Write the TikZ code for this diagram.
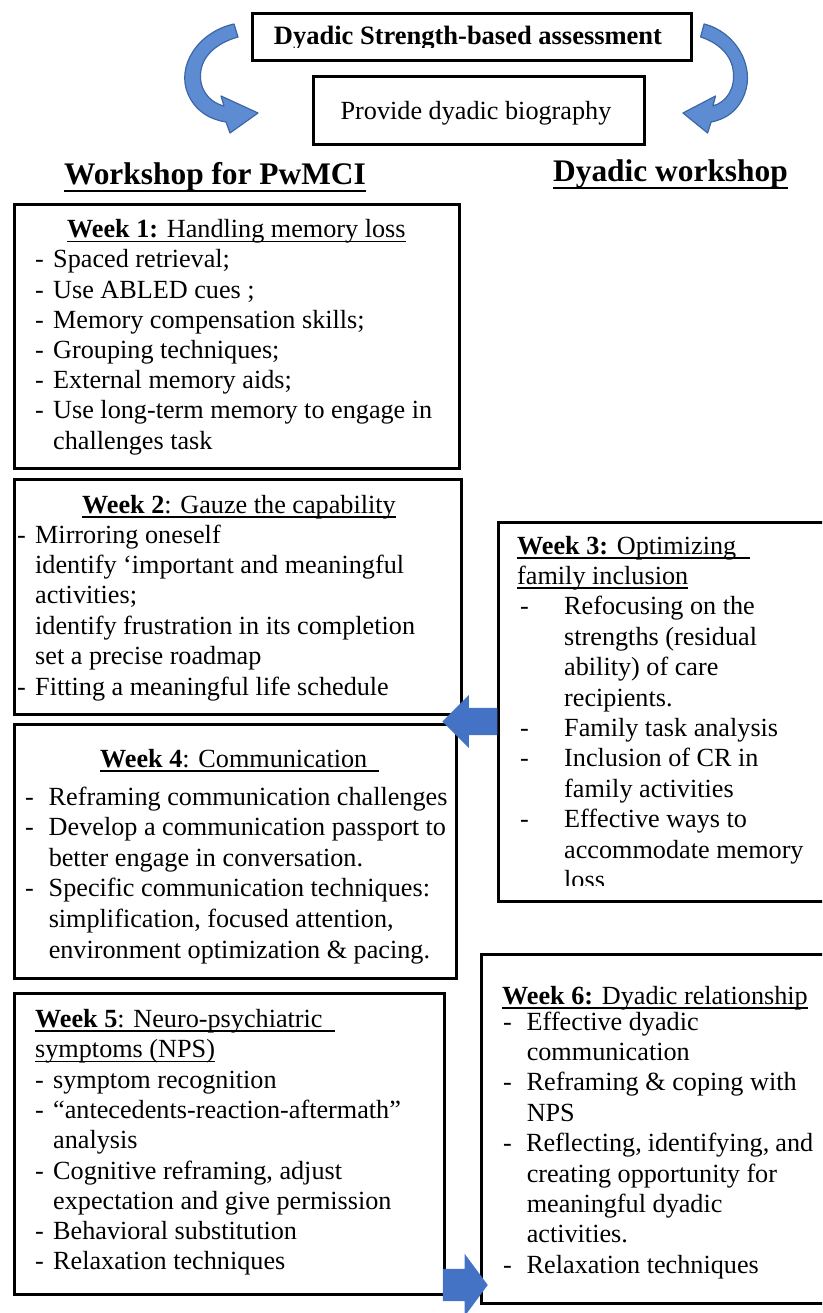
\documentclass[tikz,border=0pt]{standalone}
\usepackage{fontspec}
\setmainfont{Liberation Serif}
\usetikzlibrary{shapes.arrows}

\definecolor{blockblue}{HTML}{4472C4}
\definecolor{curvefill}{HTML}{5E8CD2}
\definecolor{curveline}{HTML}{3D66A6}

\newsavebox{\ulbox}
\newcommand{\wkhead}[1]{\leavevmode\sbox{\ulbox}{#1}\rlap{\rule[-4.5pt]{\wd\ulbox}{1.6pt}}\usebox{\ulbox}}
\newcommand{\colhead}[1]{\leavevmode\sbox{\ulbox}{#1}\rlap{\rule[-7.5pt]{\wd\ulbox}{2.2pt}}\usebox{\ulbox}}
\newcommand{\wkdash}[1][18pt]{\makebox[#1][l]{-}}
\newcommand{\wkcont}[1][18pt]{\hspace*{#1}}

\begin{document}
\begin{tikzpicture}[x=1pt, y=-1pt,
    wbox/.style={draw, line width=3.4pt, inner sep=0, anchor=north west},
    wtext/.style={inner sep=0, anchor=base west, font=\fontsize{26.2}{30.2}\selectfont},
    bigtitle/.style={inner sep=0, anchor=base, font=\fontsize{31.4}{36}\selectfont\bfseries},
    blockarr/.style={single arrow, fill=blockblue, inner xsep=0, anchor=tip},
    curvearr/.style={fill=curvefill, draw=curveline, line width=1.2pt, line join=round}]

  \path[use as bounding box, clip] (0,0) rectangle (822,1313);

  % Assessment
  \node[wbox, line width=3pt, minimum width=439pt, minimum height=47pt] (assess) at (251,12) {};
  \begin{scope}
    \clip (251,12) rectangle (690,48);
    \node[wtext, anchor=base, font=\fontsize{26.5}{30}\selectfont\bfseries] (assesstxt) at (468,45) {Dyadic Strength-based assessment};
  \end{scope}
  \node[wbox, line width=3pt, minimum width=331pt, minimum height=68pt] (bio) at (312,75) {};
  \node[wtext, anchor=base] (biotxt) at (476,120) {Provide dyadic biography};

  \foreach \sx/\sh in {1/0, -0.88/910} {
    \begin{scope}[xshift=\sh pt, xscale=\sx]
      \filldraw[curvearr] (234,24) .. controls (198,32) and (176,66) .. (188,94)
        .. controls (195,110) and (208,119) .. (226,122) -- (230,133) -- (258,113)
        -- (221,96) -- (224,106) .. controls (208,102) and (198,88) .. (201,70)
        .. controls (204,53) and (220,42) .. (238,37) -- cycle;
    \end{scope}
  }

  \node[bigtitle] (pwmci) at (215,185) {\colhead{Workshop for PwMCI}};
  \node[bigtitle] (dyadic) at (670.5,182) {\colhead{Dyadic workshop}};

  % Weeks
  \node[wbox, minimum width=445pt, minimum height=264pt] (w1) at (13,203) {};
  \node[wtext] (w1h) at (67,238) {\wkhead{\textbf{Week 1:} Handling memory loss}};
  \node[wtext] (w1l) at (35,268) {\begin{minipage}[t]{420pt}
    \wkdash Spaced retrieval;\\
    \wkdash Use ABLED cues ;\\
    \wkdash Memory compensation skills;\\
    \wkdash Grouping techniques;\\
    \wkdash External memory aids;\\
    \wkdash Use long-term memory to engage in\\
    \wkcont challenges task
  \end{minipage}};

  \node[wbox, minimum width=447pt, minimum height=235pt] (w2) at (13,478) {};
  \node[wtext] (w2h) at (82,513) {\wkhead{\textbf{Week 2}: Gauze the capability}};
  \node[wtext, font=\fontsize{26.2}{30.4}\selectfont] (w2l) at (17,543) {\begin{minipage}[t]{440pt}
    \wkdash Mirroring oneself\\
    \wkcont identify ‘important and meaningful\\
    \wkcont activities;\\
    \wkcont identify frustration in its completion\\
    \wkcont set a precise roadmap\\
    \wkdash Fitting a meaningful life schedule
  \end{minipage}};

  \node[wbox, minimum width=340pt, minimum height=379pt] (w3) at (497,521) {};
  \begin{scope}
    \clip (497,521) rectangle (835,885);
    \node[wtext, font=\fontsize{26.2}{30.4}\selectfont] (w3l) at (517,554) {\begin{minipage}[t]{300pt}
      \wkhead{\textbf{Week 3:} Optimizing\hspace{14pt}}\\
      \wkhead{family inclusion}\\
      \hspace*{3pt}\wkdash[44pt]Refocusing on the\\
      \wkcont[47pt]strengths (residual\\
      \wkcont[47pt]ability) of care\\
      \wkcont[47pt]recipients.\\
      \hspace*{3pt}\wkdash[44pt]Family task analysis\\
      \hspace*{3pt}\wkdash[44pt]Inclusion of CR in\\
      \wkcont[47pt]family activities\\
      \hspace*{3pt}\wkdash[44pt]Effective ways to\\
      \wkcont[47pt]accommodate memory\\
      \wkcont[47pt]loss
    \end{minipage}};
  \end{scope}

  \node[wbox, minimum width=442pt, minimum height=254pt] (w4) at (13,723) {};
  \node[wtext] (w4h) at (100,767) {\wkhead{\textbf{Week 4}: Communication\hspace{12pt}}};
  \node[wtext, font=\fontsize{26.2}{30.6}\selectfont] (w4l) at (25,805) {\begin{minipage}[t]{430pt}
    \wkdash[17pt] Reframing communication challenges\\
    \wkdash[17pt] Develop a communication passport to\\
    \wkcont[17pt] better engage in conversation.\\
    \wkdash[17pt] Specific communication techniques:\\
    \wkcont[17pt] simplification, focused attention,\\
    \wkcont[17pt] environment optimization \& pacing.
  \end{minipage}};

  \node[wbox, minimum width=430pt, minimum height=301pt] (w5) at (13,992) {};
  \node[wtext, font=\fontsize{26.2}{30.3}\selectfont] (w5l) at (35,1027.5) {\begin{minipage}[t]{400pt}
    \wkhead{\textbf{Week 5}: Neuro-psychiatric\hspace{12pt}}\\
    \wkhead{symptoms (NPS)}\\
    \wkdash symptom recognition\\
    \wkdash “antecedents-reaction-aftermath”\\
    \wkcont analysis\\
    \wkdash Cognitive reframing, adjust\\
    \wkcont expectation and give permission\\
    \wkdash Behavioral substitution\\
    \wkdash Relaxation techniques
  \end{minipage}};

  \node[wbox, minimum width=355pt, minimum height=349pt] (w6) at (480,953) {};
  \node[wtext] (w6h) at (502,1004) {\wkhead{\textbf{Week 6:} Dyadic relationship}};
  \node[wtext, font=\fontsize{26.2}{30.4}\selectfont] (w6l) at (503,1030) {\begin{minipage}[t]{310pt}
    \wkdash[17pt] Effective dyadic\\
    \wkcont[17pt] communication\\
    \wkdash[17pt] Reframing \& coping with\\
    \wkcont[17pt] NPS\\
    \wkdash[17pt] Reflecting, identifying, and\\
    \wkcont[17pt] creating opportunity for\\
    \wkcont[17pt] meaningful dyadic\\
    \wkcont[17pt] activities.\\
    \wkdash[17pt] Relaxation techniques
  \end{minipage}};

  % Arrows
  \node[blockarr, shape border rotate=180, inner ysep=13.5pt, single arrow head extend=13pt, minimum height=55pt] (arr34) at (442,721.5) {};
  \node[blockarr, inner ysep=16pt, single arrow head extend=15pt, single arrow tip angle=107, minimum height=45pt] (arr56) at (488,1285) {};
\end{tikzpicture}
\end{document}
